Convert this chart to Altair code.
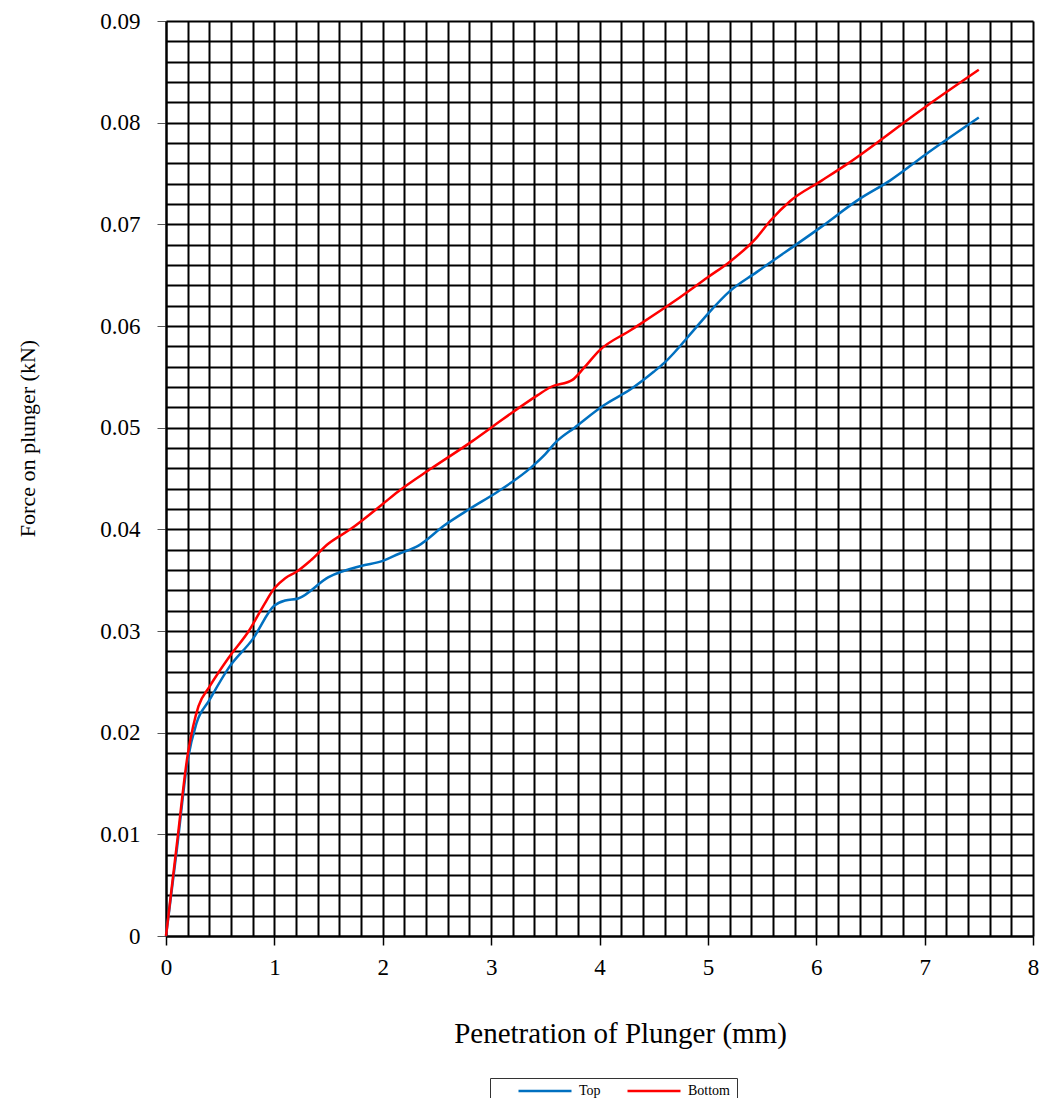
import altair as alt
import pandas as pd

# Penetration (mm) and force (kN)
top_x = [0, 0.1, 0.2, 0.28, 0.4, 0.58, 0.8, 1.0, 1.1, 1.22, 1.5, 1.8, 2.0, 2.15, 2.33,
         2.57, 2.8, 3.06, 3.37, 3.5, 3.6, 3.77, 4.04, 4.29, 4.5, 4.6, 4.87, 5.0, 5.2,
         5.45, 6.04, 6.4, 6.68, 7.0, 7.5]
top_y = [0, 0.0085, 0.0173, 0.0209, 0.0232, 0.0264, 0.0292, 0.0325, 0.0330, 0.0332,
         0.0353, 0.0364, 0.0369, 0.0376, 0.0384, 0.0404, 0.0420, 0.0437, 0.0461, 0.0474,
         0.0486, 0.0500, 0.0522, 0.0538, 0.0555, 0.0564, 0.0596, 0.0612, 0.0634, 0.0653,
         0.0697, 0.0725, 0.0743, 0.0768, 0.0805]

bottom_x = [0, 0.1, 0.2, 0.25, 0.3, 0.4, 0.58, 0.77, 0.9, 1.0, 1.1, 1.2, 1.33, 1.5, 1.7,
            2.0, 2.14, 2.45, 2.83, 3.0, 3.43, 3.55, 3.75, 3.85, 4.0, 4.29, 4.7, 5.0, 5.2,
            5.45, 5.58, 5.76, 6.05, 6.28, 7.0, 7.5]
bottom_y = [0, 0.0090, 0.0178, 0.0206, 0.0226, 0.0245, 0.0274, 0.0301, 0.0325, 0.0342,
            0.0352, 0.0358, 0.0369, 0.0386, 0.0400, 0.0425, 0.0437, 0.0460, 0.0487, 0.0500,
            0.0532, 0.0540, 0.0547, 0.0558, 0.0576, 0.0596, 0.0625, 0.0648, 0.0663, 0.0687,
            0.0704, 0.0723, 0.0743, 0.0759, 0.0815, 0.0852]

series_names = ["Top", "Bottom"]
series_colors = ["#0070C0", "#FF0000"]

# axis tick / grid positions
x_ticks = [round(i * 0.2, 1) for i in range(41)]
y_ticks = [round(i * 0.002, 3) for i in range(46)]

df = pd.DataFrame({
    "pen": top_x + bottom_x,
    "force": top_y + bottom_y,
    "series": ["Top"] * len(top_x) + ["Bottom"] * len(bottom_x),
})

FONT = "Liberation Serif"

x_axis = alt.Axis(
    values=x_ticks,
    labelExpr="abs(datum.value - round(datum.value)) < 1e-6 ? format(datum.value, 'd') : ''",
    labelOverlap=False,
    labelFlush=False,
    grid=True, gridColor="black", gridWidth=2, gridOpacity=1,
    domainColor="black", domainWidth=2,
    tickColor="black", tickWidth=1.5, tickSize=9,
    tickOpacity={"condition": {"test": "abs(datum.value - round(datum.value)) < 1e-6", "value": 1}, "value": 0},
    labelFont=FONT, labelFontSize=23, labelColor="black", labelPadding=11,
    title="Penetration of Plunger (mm)",
    titleFont=FONT, titleFontSize=29, titleFontWeight="normal", titleColor="black",
    titleX=454, titleY=106, titleBaseline="alphabetic", titleAlign="center",
)

y_axis = alt.Axis(
    values=y_ticks,
    labelExpr="abs(datum.value * 100 - round(datum.value * 100)) < 1e-6 ? format(datum.value, '~g') : ''",
    labelOverlap=False,
    labelFlush=False,
    grid=True, gridColor="black", gridWidth=2, gridOpacity=1,
    domainColor="black", domainWidth=2,
    tickColor="#555555", tickWidth=1, tickSize=9,
    tickOpacity={"condition": {"test": "abs(datum.value * 100 - round(datum.value * 100)) < 1e-6", "value": 1}, "value": 0},
    labelFont=FONT, labelFontSize=23, labelColor="black", labelPadding=17,
    title="Force on plunger (kN)",
    titleFont=FONT, titleFontSize=22, titleFontWeight="normal", titleColor="black",
    titleX=-139, titleY=417, titleAngle=-90, titleBaseline="middle", titleAlign="center",
)

legend = alt.Legend(
    orient="none", legendX=324, legendY=1057, direction="horizontal", title=None,
    strokeColor="#333333", fillColor="white", padding=6,
    symbolType="M-5.3,0H5.3", symbolSize=100, symbolStrokeWidth=2.5,
    symbolOffset=42, labelOffset=27,
    labelFont=FONT, labelFontSize=14, labelColor="black", columnPadding=4,
)

chart = alt.Chart(df).mark_line(strokeWidth=2.5, interpolate="monotone").encode(
    x=alt.X("pen:Q", scale=alt.Scale(domain=[0, 8], nice=False, zero=False), axis=x_axis),
    y=alt.Y("force:Q", scale=alt.Scale(domain=[0, 0.09], nice=False, zero=False), axis=y_axis),
    color=alt.Color("series:N", scale=alt.Scale(domain=series_names, range=series_colors), legend=legend),
    order=alt.Order("pen:Q"),
).properties(
    width=867, height=915,
    autosize=alt.AutoSizeParams(type="none"),
    padding={"left": 158, "top": 13, "right": 6, "bottom": 162},
    background="white",
).configure_view(stroke=None)

chart.save("out.html", embed_options={"renderer": "svg", "actions": False})
